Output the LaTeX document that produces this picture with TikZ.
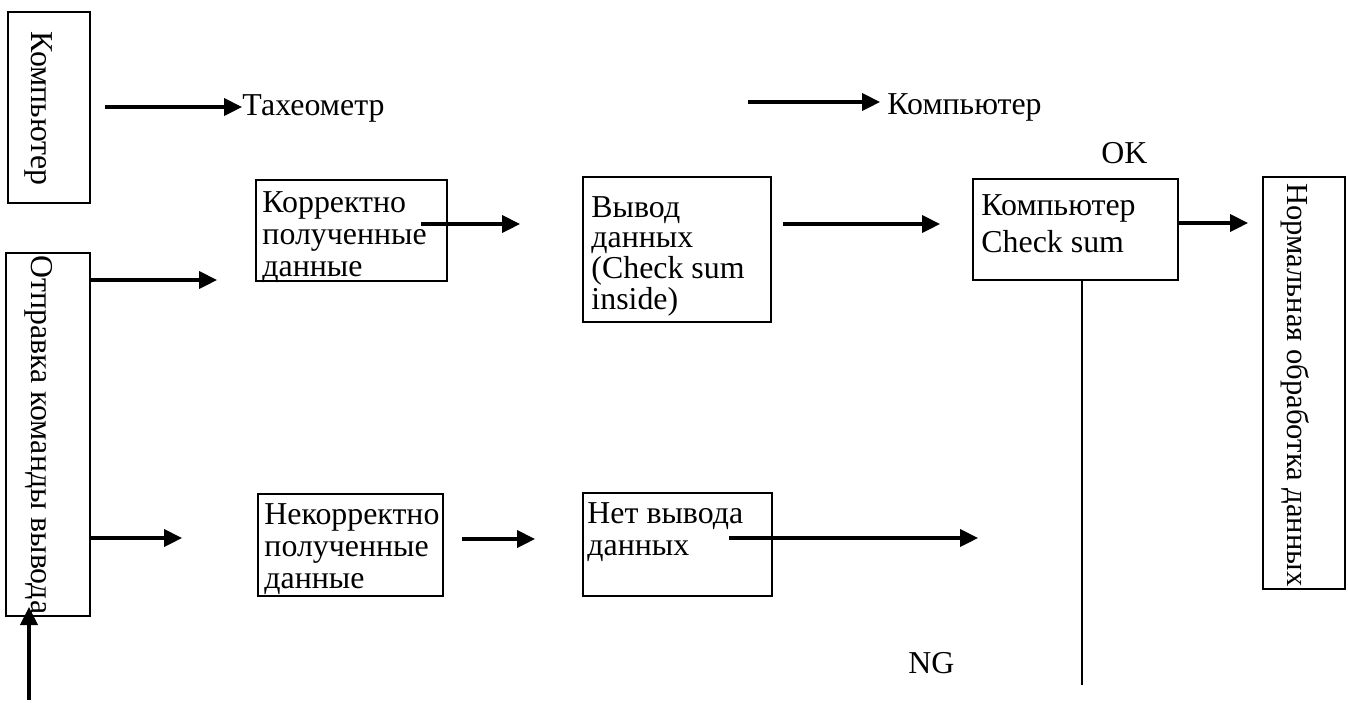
\documentclass[tikz,border=0pt]{standalone}
\usepackage{fontspec}
\setmainfont{Liberation Serif}
\usepackage{tikz}
\usetikzlibrary{arrows.meta}

\tikzset{
  blockbox/.style={draw, line width=0.95pt, inner sep=0pt},
  flowarrow/.style={-{Triangle[length=0.27cm, width=0.26cm]}, line width=1.3pt},
  plaintext/.style={inner sep=0pt, anchor=base west, font=\fontsize{13.6}{13.6}\selectfont},
  boxtext/.style={inner sep=0pt, anchor=base west, font=\fontsize{13.6}{#1}\selectfont},
  sidetext/.style={plaintext, rotate=-90},
}
\newcommand{\linestack}[1]{\begin{tabular}[t]{@{}l@{}}#1\end{tabular}}

\begin{document}
\begin{tikzpicture}[x=0.015cm, y=-0.015cm]
  \useasboundingbox (0,0) rectangle (1348,702);

  % ---------- Vertical boxes ----------
  \node[blockbox, minimum width=1.23cm, minimum height=2.865cm] (comp) at (49,107.5) {};
  \node[sidetext] (comptext) at (31,31) {Компьютер};
  \node[blockbox, minimum width=1.26cm, minimum height=5.445cm] (send) at (48,434.5) {};
  \node[sidetext] (sendtext) at (31,255) {Отправка команды вывода};
  \node[blockbox, minimum width=1.23cm, minimum height=6.18cm] (norm) at (1304,383) {};
  \node[sidetext, font=\fontsize{13.05}{13.6}\selectfont] (normtext) at (1287,183) {Нормальная обработка данных};

  % ---------- Upper row ----------
  \node[blockbox, minimum width=2.865cm, minimum height=1.515cm] (korr) at (351.5,230.5) {};
  \node[boxtext=13.66pt] (korrtext) at (262,212) {\linestack{Корректно\\полученные\\данные}};
  \node[blockbox, minimum width=2.82cm, minimum height=2.175cm] (vyvod) at (677,249.5) {};
  \node[boxtext=13.0pt] (vyvodtext) at (591,217) {\linestack{Вывод\\данных\\(Check sum\\inside)}};
  \node[blockbox, minimum width=3.075cm, minimum height=1.515cm] (check) at (1075.5,229.5) {};
  \node[boxtext=16.2pt] (checktext) at (981,215) {\linestack{Компьютер\\Check sum}};

  % ---------- Lower row ----------
  \node[blockbox, minimum width=2.775cm, minimum height=1.53cm] (nekorr) at (350.5,545) {};
  \node[boxtext=13.66pt] (nekorrtext) at (264,524) {\linestack{Некорректно\\полученные\\данные}};
  \node[blockbox, minimum width=2.835cm, minimum height=1.545cm] (net) at (677.5,544.5) {};
  \node[boxtext=13.66pt] (nettext) at (587,523) {\linestack{Нет вывода\\данных}};

  % ---------- Free labels ----------
  \node[plaintext] (tah) at (242,115) {Тахеометр};
  \node[plaintext] (comptop) at (887,114) {Компьютер};
  \node[plaintext] (ok) at (1101,163) {OK};
  \node[plaintext] (ng) at (908,673) {NG};

  % ---------- Arrow ends ----------
  \coordinate (tahS) at (105,107);
  \coordinate (compS) at (748,102);
  \coordinate (compE) at (880,102);
  \coordinate (sendUp) at (217,280);
  \coordinate (sendDown) at (182,538);
  \coordinate (cmdIn) at (29,700);
  \coordinate (cmdTip) at (29,607);
  \coordinate (korrOut) at (421,224);
  \coordinate (korrTip) at (520,224);
  \coordinate (vyvodOut) at (783,224);
  \coordinate (vyvodTip) at (940,224);
  \coordinate (normTip) at (1248,223);
  \coordinate (nekorrOut) at (462,539);
  \coordinate (nekorrTip) at (535,539);
  \coordinate (netOut) at (729,538);
  \coordinate (netTip) at (978,538);
  \coordinate (ngEnd) at (1082,685);

  % ---------- Connectors ----------
  \draw[flowarrow] (tahS) -- (tahS -| tah.west);
  \draw[flowarrow] (compS) -- (compE);
  \draw[flowarrow] (send.east |- sendUp) -- (sendUp);
  \draw[flowarrow] (send.east |- sendDown) -- (sendDown);
  \draw[flowarrow] (cmdIn) -- (cmdTip);
  \draw[flowarrow] (korrOut) -- (korrTip);
  \draw[flowarrow] (vyvodOut) -- (vyvodTip);
  \draw[flowarrow] (check.east |- normTip) -- (normTip);
  \draw[flowarrow] (nekorrOut) -- (nekorrTip);
  \draw[flowarrow] (netOut) -- (netTip);
  \draw[line width=0.75pt] (check.south -| ngEnd) -- (ngEnd);

\end{tikzpicture}
\end{document}
